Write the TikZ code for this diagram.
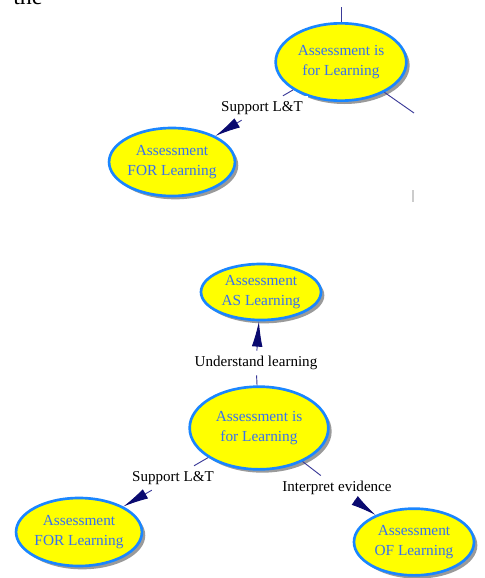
\documentclass[tikz,border=0pt]{standalone}
\usepackage{fontspec}
\setmainfont{Liberation Serif}
\usepackage{tikz}
\usetikzlibrary{shapes.geometric,arrows.meta,shadows}

\definecolor{conceptfill}{HTML}{FFFF00}
\definecolor{conceptedge}{HTML}{1A86FF}
\definecolor{concepttext}{HTML}{3870F0}
\definecolor{linkcol}{HTML}{3A3A98}
\definecolor{headcol}{HTML}{0A0A70}
\definecolor{shadowcol}{HTML}{9A9A9A}

\tikzset{
  concept/.style={ellipse, draw=conceptedge, line width=2pt, fill=conceptfill,
    text=concepttext, align=center, inner sep=0pt,
    font=\fontsize{11.5}{15}\selectfont,
    drop shadow={shadow xshift=2.5pt, shadow yshift=-2.5pt, fill=shadowcol, opacity=1}},
  linklabel/.style={fill=white, inner sep=4pt, font=\fontsize{11.3}{13}\selectfont},
  link/.style={draw=linkcol, line width=0.7pt},
  tip/.style={-{Latex[length=19pt, width=8pt, color=headcol]}}
}

\begin{document}
\begin{tikzpicture}[x=0.75pt, y=-0.75pt]
		\useasboundingbox (0,0) rectangle (485,578);
		\clip (0,0) rectangle (485,578);

		% cut off word at the top
		\node[anchor=base west, inner sep=0pt, font=\fontsize{18}{20}\selectfont] (theword) at (13,4) {the};

		% upper map (cropped)
		\coordinate (upin) at (341,7);
		\coordinate (upout) at (414,113);
		\node[concept, minimum width=98pt, minimum height=58pt] (upcentre) at (341,62) {Assessment is\\for Learning};
		\node[concept, minimum width=89pt, minimum height=51pt] (upfor) at (172,162) {Assessment\\FOR Learning};
		\node[linklabel] (upsupport) at (262,108) {Support L\&T};

		\draw[link] (upin) -- (upcentre);
		\draw[link] (upcentre) -- (upout);
		\draw[link] (upcentre) -- (upsupport);
		\draw[link, tip] (upsupport) -- (upfor);
		\draw[gray!40, line width=1pt] (413,190) -- (413,202);

		% lower map
		\node[concept, minimum width=90pt, minimum height=42pt] (asnode) at (261,292) {Assessment\\AS Learning};
		\node[concept, minimum width=104pt, minimum height=62pt] (centre) at (259,428) {Assessment is\\for Learning};
		\node[concept, minimum width=94pt, minimum height=51pt] (fornode) at (79,532) {Assessment\\FOR Learning};
		\node[concept, minimum width=90pt, minimum height=50pt] (ofnode) at (414,542) {Assessment\\OF Learning};

		\node[linklabel] (understand) at (256,363) {Understand learning};
		\node[linklabel] (support) at (173,478) {Support L\&T};
		\node[linklabel] (interpret) at (337,488) {Interpret evidence};

		% connectors
		\draw[link] (centre) -- (understand);
		\draw[link, tip] (understand) -- (asnode);
		\draw[link] (centre) -- (support);
		\draw[link, tip] (support) -- (fornode);
		\draw[link] (centre) -- (interpret);
		\draw[link, tip] (interpret) -- (ofnode);
	\end{tikzpicture}
\end{document}
